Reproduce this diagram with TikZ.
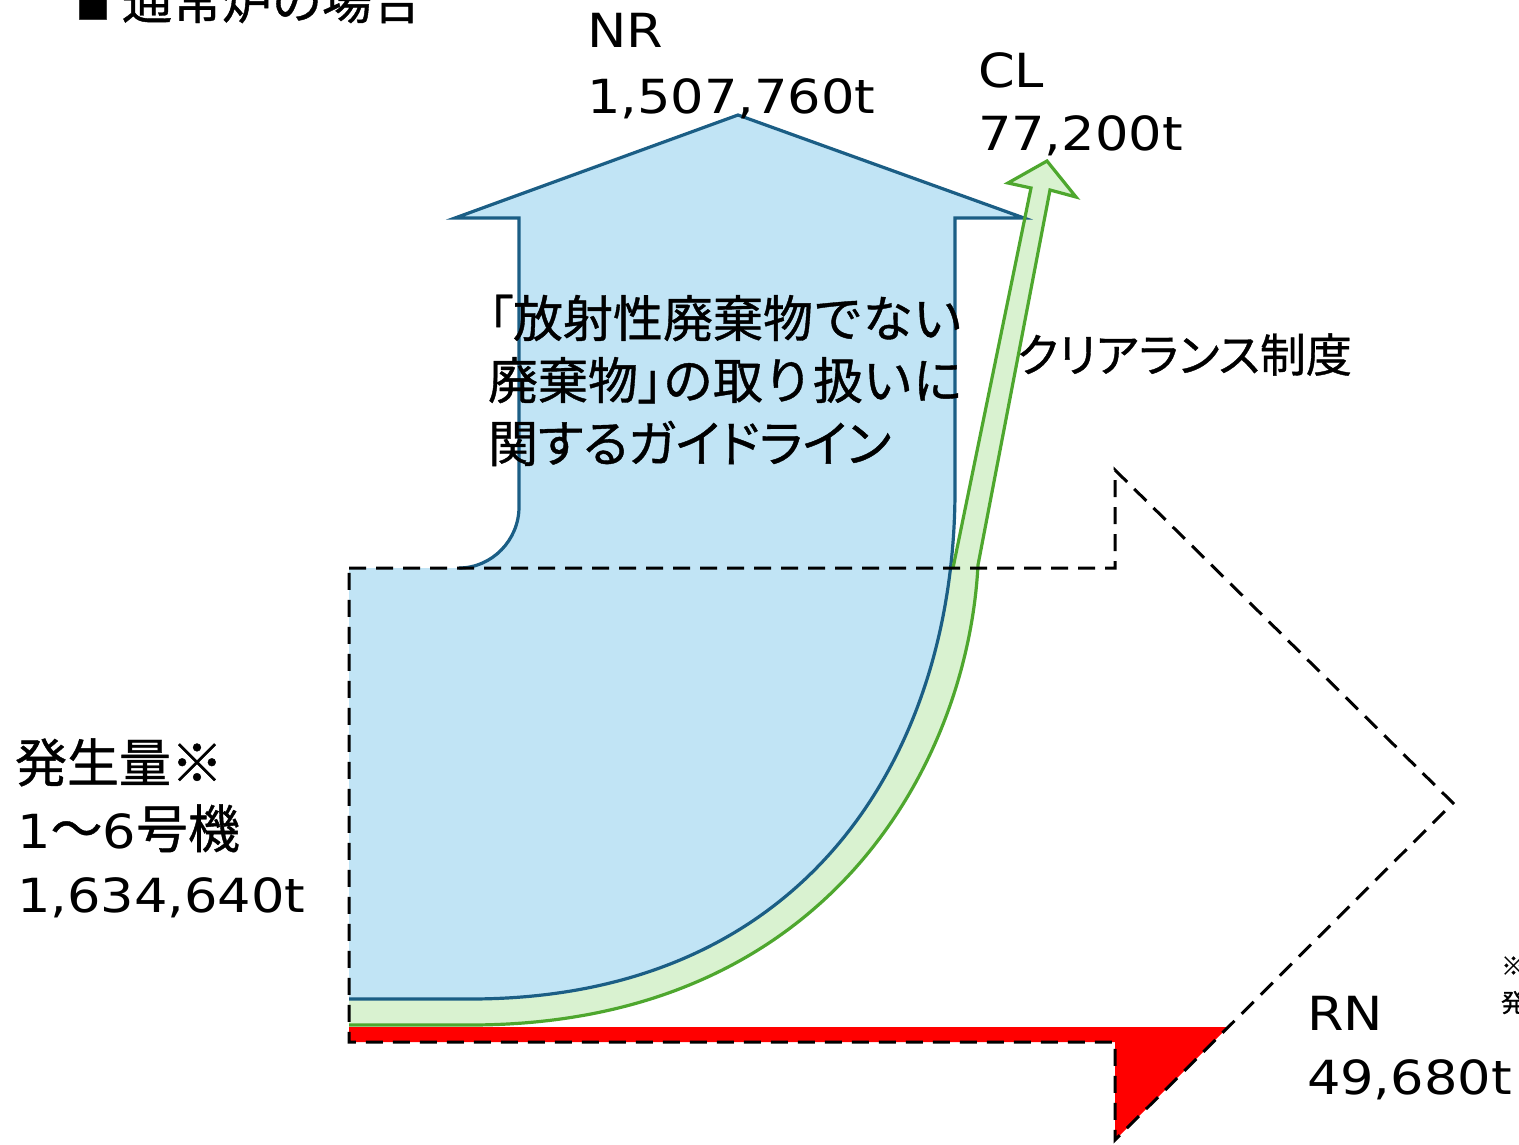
\documentclass[tikz,border=0pt]{standalone}
\usepackage{fontspec}
\newfontfamily\lat[FakeStretch=1.12]{DejaVu Sans}
\newfontfamily\jp[FakeBold=0.8]{Noto Sans CJK JP}
\newfontfamily\jpp[FakeBold=0.8,RawFeature=+palt]{Noto Sans CJK JP}
\definecolor{bluefillc}{HTML}{C1E4F5}
\definecolor{bluelinec}{HTML}{1B5E85}
\definecolor{greenfillc}{HTML}{D9F2D0}
\definecolor{greenlinec}{HTML}{4EA72E}
\definecolor{redc}{HTML}{FF0000}
\tikzset{
  bluefill/.style={fill=bluefillc},
  blueline/.style={draw=bluelinec,line width=3.2pt,line join=miter},
  greenfill/.style={fill=greenfillc},
  greenline/.style={draw=greenlinec,line width=3.2pt,line join=miter},
  redfill/.style={fill=redc},
  dashline/.style={draw=black,line width=3pt,dash pattern=on 17pt off 10pt},
  lbl/.style={anchor=base west,inner sep=0pt,outer sep=0pt,font=\fontsize{47}{56}\selectfont},
  jplbl/.style={anchor=base west,inner sep=0pt,outer sep=0pt,font=\fontsize{50}{60}\selectfont},
  smalllbl/.style={anchor=base west,inner sep=0pt,outer sep=0pt,font=\jp\fontsize{25}{30}\selectfont},
}
\begin{document}
\begin{tikzpicture}[x=1pt,y=-1pt]
\useasboundingbox (0,0) rectangle (1519,1144);
% red RN band
\path[redfill] (349,1027) -- (1228,1027) -- (1115,1140) -- (1115,1042) -- (349,1042) -- cycle;
% green CL band (fill)
\path[greenfill] (349,1000) -- (940,568) -- (953,568) -- (1031,188) -- (1008,183) -- (1047,161) -- (1076,197) -- (1050,190) -- (978,565) .. controls (968,760) and (830,1025) .. (470,1025) -- (349,1025) -- cycle;
% blue NR arrow (fill)
\path[bluefill] (349,568) -- (459,568) .. controls (492,568) and (519,540) .. (519,507) -- (519,218) -- (455,218) -- (738,115) -- (1024,218) -- (955,218) -- (955,490) .. controls (955,750) and (810,999) .. (470,999) -- (349,999) -- cycle;
% blue outline
\path[blueline] (349,999) -- (470,999) .. controls (810,999) and (955,750) .. (955,490) -- (955,218) -- (1024,218) -- (738,115) -- (455,218) -- (519,218) -- (519,507) .. controls (519,540) and (492,568) .. (459,568);
% green outline
\path[greenline] (349,1025) -- (470,1025) .. controls (830,1025) and (968,760) .. (978,565) -- (1050,190) -- (1076,197) -- (1047,161) -- (1008,183) -- (1031,188) -- (953,568);
% dashed boundary
\path[dashline] (349,568) -- (1115,568) -- (1115,470) -- (1453,803) -- (1115,1140) -- (1115,1042) -- (349,1042) -- cycle;
% texts
\node[jplbl] (title) at (76,19) {\jp{\fontsize{34}{40}\selectfont ■}\hspace{12pt}通常炉の場合};
\node[lbl] (nr1) at (587,47) {\lat NR};
\node[lbl] (nr2) at (587,113) {\lat 1,507,760t};
\node[lbl] (cl1) at (978,87) {\lat CL};
\node[lbl] (cl2) at (978,150) {\lat 77,200t};
\node[lbl,font=\fontsize{46}{56}\selectfont] (clr) at (1017,372) {\jpp クリアランス制度};
\node[jplbl] (g1) at (488,337) {\jpp 「\jp 放射性廃棄物でない};
\node[jplbl] (g2) at (488,399) {\jp 廃棄物\jpp 」\jp の取り扱いに};
\node[jplbl] (g3) at (488,462) {\jpp 関するガイドライン};
\node[jplbl,font=\fontsize{52}{60}\selectfont] (s1) at (15,782) {\jp 発生量※};
\node[lbl] (s2) at (17,848) {\lat 1{\jp\fontsize{52}{60}\selectfont ～}6{\jp\fontsize{52}{60}\selectfont 号機}};
\node[lbl] (s3) at (17,912) {\lat 1,634,640t};
\node[lbl] (rn1) at (1307,1030) {\lat RN};
\node[lbl] (rn2) at (1307,1094) {\lat 49,680t};
\node[smalllbl] (n1) at (1501,975) {※};
\node[smalllbl] (n2) at (1501,1012) {発};
\end{tikzpicture}
\end{document}
